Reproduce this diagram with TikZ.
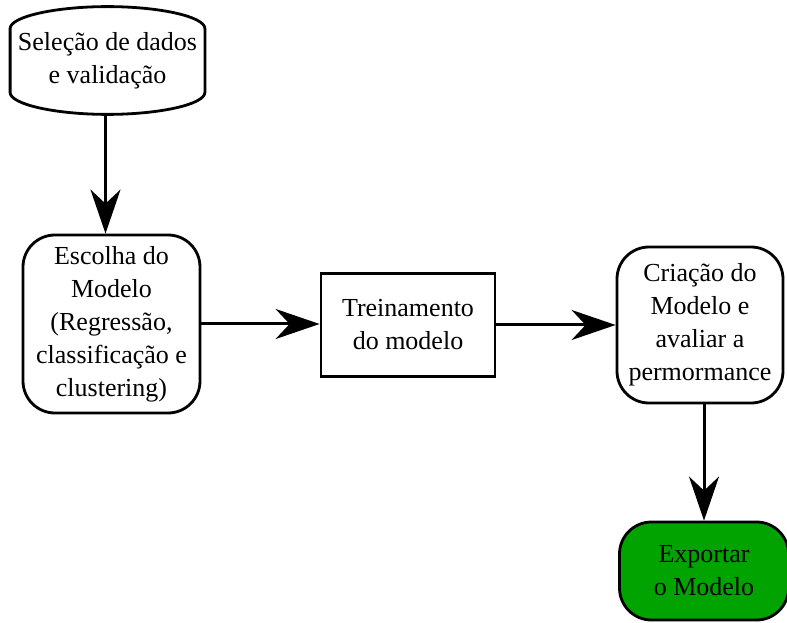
\documentclass[tikz,border=0pt]{standalone}
\usepackage{fontspec}
\setmainfont{Liberation Serif}
\usepackage{tikz}
\usetikzlibrary{arrows.meta,positioning}
\definecolor{ink}{HTML}{000000}
\definecolor{exportgreen}{HTML}{00A300}
\tikzset{
  box/.style={draw=ink,line width=1.4pt,align=center,inner sep=2pt,font=\fontsize{13}{16.5}\selectfont},
  roundbox/.style={box,rounded corners=16pt},
  arr/.style={-{Stealth[length=22pt,width=15pt,inset=7pt]},line width=1.5pt,color=ink}
}
\begin{document}
\begin{tikzpicture}[x=0.5pt,y=0.5pt]
  \useasboundingbox (0,0) rectangle (787,622);
  \node[box,draw=none,minimum width=96pt,minimum height=52.5pt] (sel) at (107.5,561.5) {Seleção de dados\\e validação};
  % curved top and bottom
  \draw[line width=1.4pt] ([yshift=-11pt]sel.north west) .. controls ([yshift=-5pt]sel.north west) and ([xshift=-26pt]sel.north) .. (sel.north)
    .. controls ([xshift=26pt]sel.north) and ([yshift=-5pt]sel.north east) .. ([yshift=-11pt]sel.north east)
    -- ([yshift=11pt]sel.south east) .. controls ([yshift=5pt]sel.south east) and ([xshift=26pt]sel.south) .. (sel.south)
    .. controls ([xshift=-26pt]sel.south) and ([yshift=5pt]sel.south west) .. ([yshift=11pt]sel.south west) -- cycle;
  \node[roundbox,minimum width=88.5pt,minimum height=89pt] (esc) at (111.5,298) {Escolha do\\Modelo\\(Regressão,\\classificação e\\clustering)};
  \node[box,minimum width=87pt,minimum height=51.5pt] (trein) at (408,297) {Treinamento\\do modelo};
  \node[roundbox,minimum width=83pt,minimum height=78pt] (cria) at (700,297) {Criação do\\Modelo e\\avaliar a\\permormance};
  \node[roundbox,fill=exportgreen,minimum width=84.5pt,minimum height=49pt] (exp) at (704,51) {Exportar\\o Modelo};
  \draw[arr] ([xshift=-1pt]sel.south) -- ([xshift=-1pt]sel.south |- esc.north);
  \draw[arr] (esc.east) -- (esc.east -| trein.west);
  \draw[arr] (trein.east) -- (trein.east -| cria.west);
  \draw[arr] (exp.north |- cria.south) -- (exp.north);
\end{tikzpicture}
\end{document}
